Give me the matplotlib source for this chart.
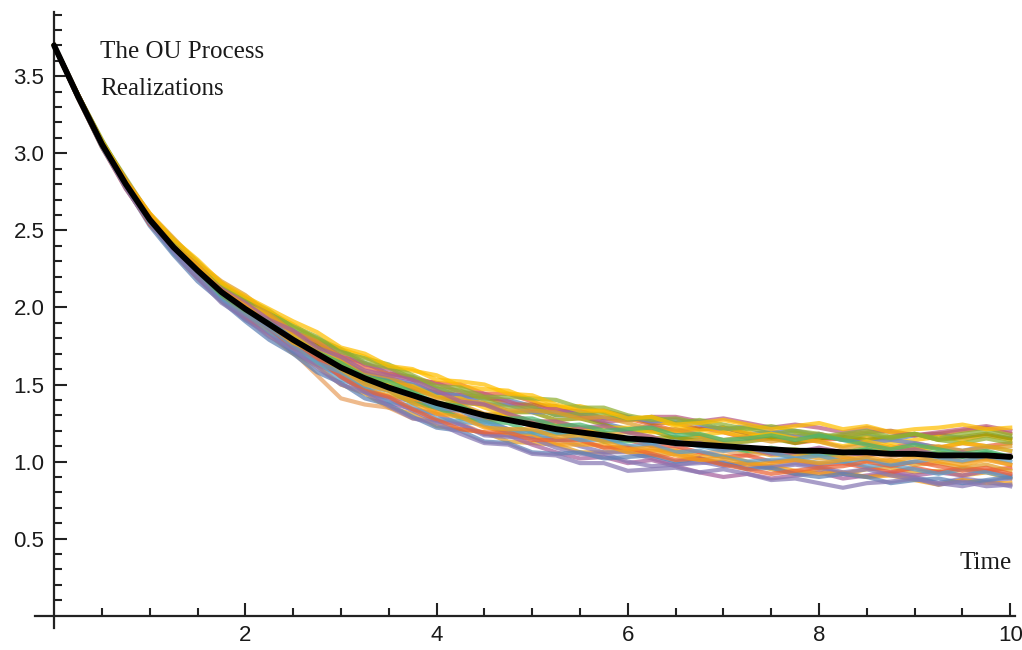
import numpy as np
import matplotlib
matplotlib.use("Agg")
import matplotlib.pyplot as plt
from matplotlib.ticker import FixedLocator

# Time grid (step 0.25) and the mean path of the OU process
time = np.arange(41) * 0.25
mean_path = [3.70, 3.37, 3.06, 2.80, 2.57, 2.39, 2.24, 2.10, 1.99, 1.89,
             1.79, 1.70, 1.61, 1.54, 1.48, 1.43, 1.38, 1.34, 1.30, 1.27,
             1.24, 1.21, 1.19, 1.17, 1.15, 1.14, 1.12, 1.11, 1.10, 1.09,
             1.08, 1.07, 1.07, 1.06, 1.06, 1.05, 1.05, 1.04, 1.04, 1.04, 1.03]

# Individual realizations, as offsets from the mean path (hundredths)
path_01 = [0, 1, 2, 1, 3, 2, 4, 3, 5, 7, 6, 8, 7, 10, 9, 12, 10, 8, 11, 13, 12, 9, 11, 8, 6, 9, 7, 10, 12, 9, 11, 13, 10, 8, 11, 9, 12, 14, 11, 13, 12]
path_02 = [0, -1, -2, -1, -3, -2, -4, -6, -5, -7, -9, -8, -11, -10, -13, -12, -15, -13, -11, -14, -12, -10, -13, -11, -8, -10, -7, -9, -12, -10, -13, -15, -12, -14, -11, -9, -12, -10, -13, -11, -14]
path_03 = [0, 0, 1, -1, 0, 2, 1, -1, 0, -2, 1, 3, 2, 4, 1, 3, 5, 2, 0, 3, 1, -2, 0, 2, -1, 1, 4, 2, 0, -3, -1, 1, -2, 0, 3, 1, -1, 2, 0, -2, 1]
path_04 = [0, 1, 0, 2, 1, 3, 5, 4, 6, 5, 3, 6, 8, 7, 9, 11, 13, 16, 14, 17, 15, 12, 14, 11, 13, 10, 8, 11, 9, 6, 8, 5, 7, 9, 6, 4, 7, 5, 8, 6, 9]
path_05 = [0, -1, 0, -2, -1, -3, -2, -1, -3, -5, -4, -2, -5, -7, -6, -4, -2, -5, -3, -6, -8, -6, -9, -11, -9, -12, -14, -11, -13, -10, -12, -9, -11, -14, -16, -13, -15, -18, -15, -17, -14]
path_06 = [0, 1, 2, 3, 2, 4, 3, 5, 7, 6, 4, 7, 5, 3, 6, 4, 7, 9, 12, 10, 13, 15, 13, 16, 14, 11, 13, 10, 12, 9, 7, 10, 8, 11, 13, 15, 12, 14, 16, 18, 15]
path_07 = [0, -1, -1, 0, -2, -1, -3, -4, -2, -5, -8, -14, -20, -17, -13, -15, -11, -9, -12, -10, -7, -9, -6, -8, -5, -7, -4, -6, -3, -5, -2, -4, -1, -3, 0, -2, 1, -1, -4, -2, -5]
path_08 = [0, 1, 1, 2, 4, 3, 2, 4, 6, 8, 10, 9, 12, 14, 13, 16, 18, 15, 17, 19, 16, 14, 17, 15, 12, 14, 11, 9, 12, 10, 7, 9, 11, 8, 10, 7, 9, 12, 10, 13, 11]
path_09 = [0, 0, -1, -2, -3, -2, -4, -5, -7, -6, -8, -7, -5, -8, -10, -9, -7, -10, -12, -10, -13, -15, -17, -14, -16, -13, -15, -18, -20, -17, -19, -16, -14, -17, -15, -12, -14, -11, -13, -10, -12]
path_10 = [0, 1, 0, 1, 0, -1, 1, 2, 0, 3, 2, 5, 4, 2, 5, 7, 6, 4, 7, 5, 8, 6, 9, 7, 4, 6, 3, 5, 2, 4, 7, 5, 8, 10, 8, 11, 13, 10, 12, 14, 12]
path_11 = [0, -1, -2, -3, -2, -4, -5, -4, -6, -4, -2, -4, -1, -3, 0, -2, -4, -1, -3, 1, -1, 2, 0, -3, -1, -4, -2, -5, -7, -5, -8, -6, -9, -7, -10, -12, -9, -11, -8, -10, -7]
path_12 = [0, 1, 2, 1, 2, 3, 2, 4, 3, 1, 4, 2, 5, 3, 6, 8, 6, 9, 7, 10, 8, 11, 13, 11, 14, 12, 15, 13, 11, 14, 12, 9, 11, 8, 6, 9, 7, 5, 3, 6, 4]
path_13 = [0, 0, 1, 2, 0, 1, -1, 0, -2, -4, -3, -6, -4, -7, -5, -3, -6, -4, -7, -9, -7, -10, -8, -6, -9, -7, -5, -8, -6, -9, -11, -13, -15, -13, -16, -14, -17, -19, -16, -18, -17]
path_14 = [0, 1, 1, 3, 2, 1, 3, 2, 4, 6, 5, 8, 11, 9, 12, 10, 13, 11, 14, 12, 10, 13, 11, 9, 12, 15, 17, 15, 18, 16, 14, 17, 15, 13, 16, 14, 12, 15, 17, 19, 17]
path_15 = [0, -1, 0, -1, 1, 0, 2, 0, -1, 1, 0, -2, -1, -3, -2, -5, -3, -6, -4, -2, -5, -3, -1, -4, -2, 1, -1, 2, 0, -2, 1, -1, -3, -1, 2, 0, 3, 1, -1, 2, 0]
path_16 = [0, 0, -1, 1, -1, -3, -2, -4, -3, -5, -7, -5, -8, -6, -9, -7, -10, -8, -6, -8, -5, -7, -4, -2, -5, -3, -6, -4, -7, -9, -7, -5, -8, -6, -9, -7, -10, -12, -9, -11, -13]
path_17 = [0, 1, 3, 2, 3, 5, 4, 6, 5, 7, 9, 11, 10, 13, 15, 13, 11, 14, 12, 15, 17, 19, 16, 18, 15, 13, 16, 14, 11, 13, 10, 12, 9, 12, 14, 11, 13, 10, 8, 11, 9]
path_18 = [0, -1, -1, -2, 0, -1, 1, -1, 2, 0, -2, 0, -3, -1, 1, -2, 0, 3, 1, 4, 2, 5, 3, 1, 4, 2, 0, 3, 1, -1, -4, -2, -5, -3, -6, -4, -7, -5, -8, -6, -9]
path_19 = [0, 1, 0, -1, -2, 0, -1, -3, -1, -3, -5, -3, -6, -9, -7, -10, -12, -10, -13, -11, -9, -12, -14, -12, -15, -17, -14, -12, -10, -13, -11, -8, -10, -13, -11, -14, -16, -18, -20, -17, -19]
path_20 = [0, 0, 1, 0, 2, 1, 3, 5, 3, 6, 4, 2, 4, 1, 3, 6, 4, 7, 5, 3, 1, 4, 2, 5, 7, 5, 8, 6, 9, 7, 10, 8, 6, 4, 7, 5, 3, 5, 8, 6, 4]
path_21 = [0, 1, 2, 4, 3, 5, 6, 4, 7, 9, 8, 10, 12, 10, 13, 11, 9, 12, 10, 8, 11, 9, 12, 14, 12, 15, 13, 16, 14, 12, 15, 13, 11, 9, 12, 10, 13, 11, 14, 16, 14]
path_22 = [0, -1, -2, -2, -4, -5, -7, -6, -8, -10, -9, -12, -10, -13, -11, -14, -16, -14, -17, -15, -18, -16, -13, -15, -12, -10, -12, -9, -11, -14, -12, -15, -17, -14, -16, -19, -17, -15, -18, -16, -13]
path_23 = [0, 0, 1, 3, 4, 6, 5, 7, 9, 7, 5, 8, 6, 4, 7, 5, 3, 6, 8, 6, 9, 11, 9, 12, 10, 7, 9, 6, 4, 7, 5, 8, 6, 3, 5, 2, 4, 6, 3, 5, 7]
path_24 = [0, -1, 0, -2, -3, -1, -3, -2, -4, -2, -5, -3, -6, -8, -6, -9, -11, -13, -11, -8, -10, -7, -5, -8, -6, -9, -11, -9, -12, -14, -16, -13, -11, -9, -6, -8, -5, -7, -10, -8, -11]
path_25 = [0, 1, 1, 0, 1, -1, 0, 2, 4, 3, 6, 4, 7, 5, 8, 10, 8, 5, 7, 4, 2, 5, 3, 6, 4, 2, -1, 1, -2, 0, -3, -1, 2, 0, -2, 1, 3, 0, 2, -1, 1]
path_26 = [0, 0, -1, -1, -2, -4, -3, -5, -4, -2, -4, -6, -3, -5, -2, 0, -3, -1, -4, -6, -4, -2, -5, -3, 0, -2, 1, -1, -3, 0, -2, -5, -3, -6, -4, -7, -5, -2, -4, -1, -3]
path_27 = [0, 1, 2, 2, 4, 5, 7, 6, 8, 10, 12, 14, 13, 16, 14, 17, 15, 18, 20, 17, 19, 16, 14, 16, 13, 15, 12, 14, 17, 15, 13, 16, 18, 15, 17, 14, 16, 18, 20, 17, 19]
path_28 = [0, -1, -1, -3, -2, -3, -5, -7, -6, -8, -6, -9, -11, -9, -12, -15, -13, -16, -18, -16, -19, -17, -20, -18, -21, -19, -16, -18, -15, -17, -20, -18, -21, -23, -20, -18, -16, -19, -17, -20, -18]
path_29 = [0, 0, 0, 1, -1, 1, 0, -2, -1, 1, -1, 1, 3, 1, 4, 2, 0, 2, -1, 1, 4, 2, 5, 3, 6, 8, 5, 7, 4, 6, 9, 7, 10, 8, 5, 3, 6, 4, 1, 3, 0]
path_30 = [0, 1, 0, 2, 3, 1, 3, 1, 2, 0, -2, 1, -1, -4, -2, -5, -7, -5, -8, -6, -3, -5, -2, -4, -7, -5, -8, -10, -8, -11, -9, -6, -8, -5, -3, -5, -2, -4, -6, -3, -5]

paths = [path_01, path_02, path_03, path_04, path_05, path_06, path_07, path_08,
         path_09, path_10, path_11, path_12, path_13, path_14, path_15, path_16,
         path_17, path_18, path_19, path_20, path_21, path_22, path_23, path_24,
         path_25, path_26, path_27, path_28, path_29, path_30]

palette = ["#5E81B5", "#E19C24", "#8FB032", "#EB6235", "#8778B3", "#C56E1A",
           "#E8A060", "#FFBF00", "#A5609D", "#929600", "#E95536", "#6685D9",
           "#F89F13", "#BC5B80", "#47B66D", "#5D9EC7", "#8FB032", "#E19C24",
           "#8778B3", "#FFBF00", "#8FB032", "#5E81B5", "#E19C24", "#EB6235",
           "#A5609D", "#5D9EC7", "#FFBF00", "#8778B3", "#47B66D", "#F89F13"]

x_major = [2, 4, 6, 8, 10]
y_major = [0.5, 1.0, 1.5, 2.0, 2.5, 3.0, 3.5]

fig = plt.figure(figsize=(10.22, 6.5), dpi=100)
ax = fig.add_axes([0.0342, 0.0338, 0.9590, 0.9485])

mean_arr = np.array(mean_path)
for offs, col in zip(paths, palette):
    ax.plot(time, mean_arr + np.array(offs) / 100.0, color=col,
            lw=3.0, alpha=0.72, solid_joinstyle="round", zorder=2)
ax.plot(time, mean_arr, color="black", lw=4.2, zorder=3,
        solid_joinstyle="round", solid_capstyle="round")

ax.set_xlim(-0.2, 10.05)
ax.set_ylim(-0.08, 3.92)

for side in ("top", "right"):
    ax.spines[side].set_visible(False)
ax.spines["left"].set_position(("data", 0))
ax.spines["bottom"].set_position(("data", 0))
for side in ("left", "bottom"):
    ax.spines[side].set_linewidth(1.6)
    ax.spines[side].set_color("#222222")

ax.xaxis.set_major_locator(FixedLocator(x_major))
ax.xaxis.set_minor_locator(FixedLocator([0.5, 1.0, 1.5, 2.5, 3.0, 3.5, 4.5, 5.0, 5.5,
                                         6.5, 7.0, 7.5, 8.5, 9.0, 9.5]))
ax.yaxis.set_major_locator(FixedLocator(y_major))
ax.yaxis.set_minor_locator(FixedLocator([v / 10 for v in range(1, 40) if v % 5 != 0]))
ax.set_xticklabels([str(v) for v in x_major])
ax.set_yticklabels([f"{v:.1f}" for v in y_major])

ax.tick_params(which="both", direction="in", color="#222222", width=1.5)
ax.tick_params(which="major", length=9.5, labelsize=16, labelcolor="#1a1a1a")
ax.tick_params(which="minor", length=5.5)
ax.tick_params(axis="y", which="major", pad=7)
ax.tick_params(axis="x", which="major", pad=6.5)
for lab in ax.get_xticklabels() + ax.get_yticklabels():
    lab.set_fontfamily("Liberation Sans")

serif = dict(family="Liberation Serif", fontsize=18, color="#1a1a1a")
ax.text(0.48, 3.62, "The OU Process", ha="left", va="baseline", **serif)
ax.text(0.48, 3.38, "Realizations", ha="left", va="baseline", **serif)
ax.text(10.02, 0.30, "Time", ha="right", va="baseline", **serif)

fig.savefig("out.png", dpi=100)
